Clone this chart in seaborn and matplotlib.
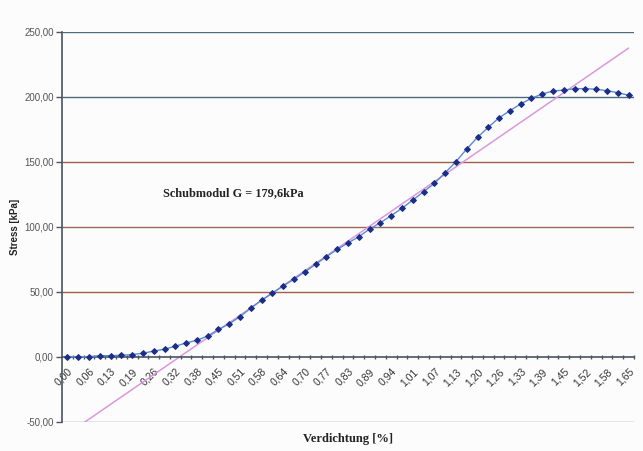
import numpy as np
import pandas as pd
import matplotlib
matplotlib.use("Agg")
import matplotlib.pyplot as plt
from matplotlib.ticker import FixedLocator
import seaborn as sns

stress = [0.0, 0.0, 0.0, 0.8, 0.8, 1.1, 1.6, 2.7, 4.3, 5.8,
          8.0, 10.6, 12.6, 15.9, 21.0, 25.3, 30.8, 37.5, 43.5, 49.0,
          54.4, 59.7, 65.2, 71.1, 76.9, 82.6, 87.5, 92.3, 98.2, 103.1,
          108.5, 114.2, 120.5, 126.9, 133.3, 141.5, 150.0, 159.8, 168.7, 176.5,
          183.8, 189.2, 194.4, 198.8, 202.1, 204.4, 205.1, 206.2, 206.2, 205.7,
          204.6, 203.1, 201.1]

# Beschriftung jeder zweiten Kategorie (Verdichtung in %)
x_labels = ["0,00", "0,06", "0,13", "0,19", "0,26", "0,32", "0,38", "0,45", "0,51",
            "0,58", "0,64", "0,70", "0,77", "0,83", "0,89", "0,94", "1,01", "1,07",
            "1,13", "1,20", "1,26", "1,33", "1,39", "1,45", "1,52", "1,58", "1,65"]

# Trendlinie: Werte am ersten und letzten Punkt
trend_x = [0, 52]
trend_y = [-59.5, 237.4]

y_ticks = [-50, 0, 50, 100, 150, 200, 250]

df = pd.DataFrame({"idx": np.arange(len(stress)), "stress": stress})
n = len(stress)

sns.set_style("white")
plt.rcParams["font.family"] = ["Liberation Sans", "DejaVu Sans"]

fig = plt.figure(figsize=(6.43, 4.51), dpi=100, facecolor="#fcfcfd")
ax = fig.add_axes([0.0964, 0.065, 0.8896, 0.8647])
ax.set_facecolor("#fcfcfd")

# Gitterlinien
grid_cols = {-50: "#7f909a", 50: "#a0604e", 100: "#9a6a58", 150: "#a0604e",
             200: "#4f6c7a", 250: "#4f6c7a"}
for v, c in grid_cols.items():
    ax.axhline(v, color=c, lw=1.0, zorder=1)

# Trendlinie
ax.plot(trend_x, trend_y, color="#dc98dc", lw=1.1, zorder=2)

sns.lineplot(data=df, x="idx", y="stress", ax=ax, color="#5a8ad4", lw=1.0,
             marker="D", markersize=3.0, markerfacecolor="#1c2f88",
             markeredgecolor="#1c2f88", zorder=3)

ax.set_xlim(-0.5, n - 0.5)
ax.set_ylim(-50, 250)

# x-Achse auf Höhe 0, Teilstriche zwischen den Kategorien
for s in ["top", "right"]:
    ax.spines[s].set_visible(False)
ax.spines["bottom"].set_position(("data", 0))
ax.spines["bottom"].set_color("#4a5560")
ax.spines["bottom"].set_linewidth(1.2)
ax.spines["bottom"].set_zorder(2.5)
ax.spines["left"].set_color("#4a5560")
ax.spines["left"].set_linewidth(1.2)

ax.set_xticks(np.arange(0, n, 2))
ax.set_xticklabels(x_labels, rotation=45, ha="right", va="top",
                   rotation_mode="anchor", fontsize=7.5, color="#333333")
ax.xaxis.set_minor_locator(FixedLocator(np.arange(n) + 0.5))
ax.tick_params(axis="x", which="major", length=0, pad=7, bottom=True)
ax.tick_params(axis="x", which="minor", length=3, width=1, direction="inout",
               color="#4a5560", bottom=True)

ax.set_yticks(y_ticks)
ax.set_yticklabels([f"{v:.2f}".replace(".", ",") for v in y_ticks],
                   fontsize=7, color="#555555")
ax.tick_params(axis="y", length=4, width=1, color="#4a5560", pad=2, left=True)

ax.set_xlabel("Verdichtung [%]", fontsize=9, fontweight="bold",
              family=["Liberation Serif", "DejaVu Serif"], color="#222222")
ax.xaxis.set_label_coords(0.5, -0.03)
ax.set_ylabel("Stress [kPa]", fontsize=7, fontweight="bold", color="#222222")
ax.yaxis.set_label_coords(-0.074, 0.5)

ax.text(8.9, 126, "Schubmodul G = 179,6kPa", fontsize=8.8, fontweight="bold",
        family=["Liberation Serif", "DejaVu Serif"], color="#222222",
        va="center", ha="left")

fig.savefig("out.png", dpi=100, facecolor=fig.get_facecolor())
